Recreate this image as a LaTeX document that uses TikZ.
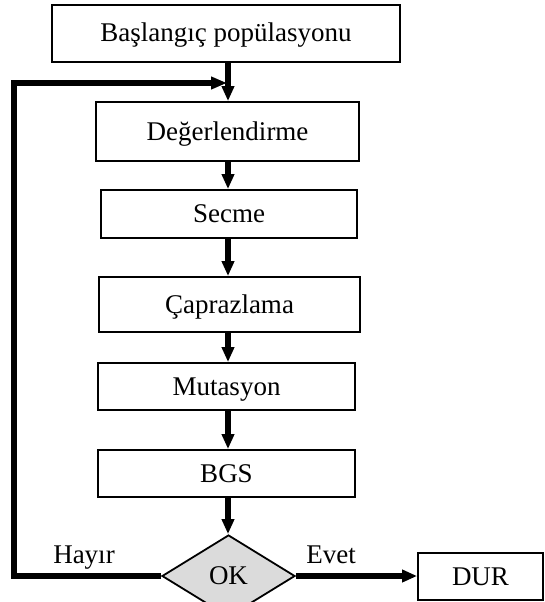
\documentclass[tikz,border=0pt]{standalone}
\usepackage{fontspec}
\setmainfont{Liberation Serif}
\usetikzlibrary{arrows.meta,shapes.geometric}
\begin{document}
\begin{tikzpicture}[x=1pt,y=-1pt,
  box/.style={draw,line width=1.8pt,fill=white,inner sep=0pt,
    text height=17pt,text depth=0pt,font=\fontsize{27}{30}\selectfont},
  dec/.style={diamond,draw,line width=1.8pt,fill=black!14,inner sep=0pt,
    text height=17pt,text depth=0pt,font=\fontsize{27}{30}\selectfont},
  lbl/.style={inner sep=0pt,text height=17pt,text depth=0pt,font=\fontsize{27}{30}\selectfont},
  flow/.style={line width=5.6pt,-{Triangle[length=15pt,width=12pt]}},
  fb/.style={line width=5.6pt,line join=miter,-{Triangle[length=16pt,width=12pt]}}]
\useasboundingbox (0,0) rectangle (544,602);
\clip (0,0) rectangle (544,602);
\coordinate (ax) at (228,0);
\node[box,minimum width=348pt,minimum height=57pt] (b1) at (226,33.5) {Başlangıç popülasyonu};
\node[box,minimum width=263pt,minimum height=59pt] (b2) at (227.5,131.5) {Değerlendirme};
\node[box,minimum width=256pt,minimum height=48pt] (b3) at (229,214) {Secme};
\node[box,minimum width=261pt,minimum height=55pt] (b4) at (229.5,304.5) {Çaprazlama};
\node[box,minimum width=257pt,minimum height=47pt] (b5) at (226.5,386.5) {Mutasyon};
\node[box,minimum width=257pt,minimum height=47pt] (b6) at (226.5,473.5) {BGS};
\node[dec,minimum width=133pt,minimum height=82pt] (ok) at (228.5,576) {OK};
\node[box,minimum width=125pt,minimum height=47pt] (dur) at (480.5,576.5) {DUR};
\node[lbl] (hay) at (84,555) {Hayır};
\node[lbl] (evt) at (331,555) {Evet};
\draw[flow] (b1.south -| ax) -- (b2.north -| ax);
\draw[flow] (b2.south -| ax) -- (b3.north -| ax);
\draw[flow] (b3.south -| ax) -- (b4.north -| ax);
\draw[flow] (b4.south -| ax) -- (b5.north -| ax);
\draw[flow] (b5.south -| ax) -- (b6.north -| ax);
\draw[flow] (b6.south -| ax) -- (ok.north -| ax);
\draw[flow] (ok.east) -- (ok.east -| dur.west);
\coordinate (lc) at (14,83);
\coordinate (jn) at (227,83);
\draw[fb] (ok.west) -| (lc) -- (jn);
\end{tikzpicture}
\end{document}
